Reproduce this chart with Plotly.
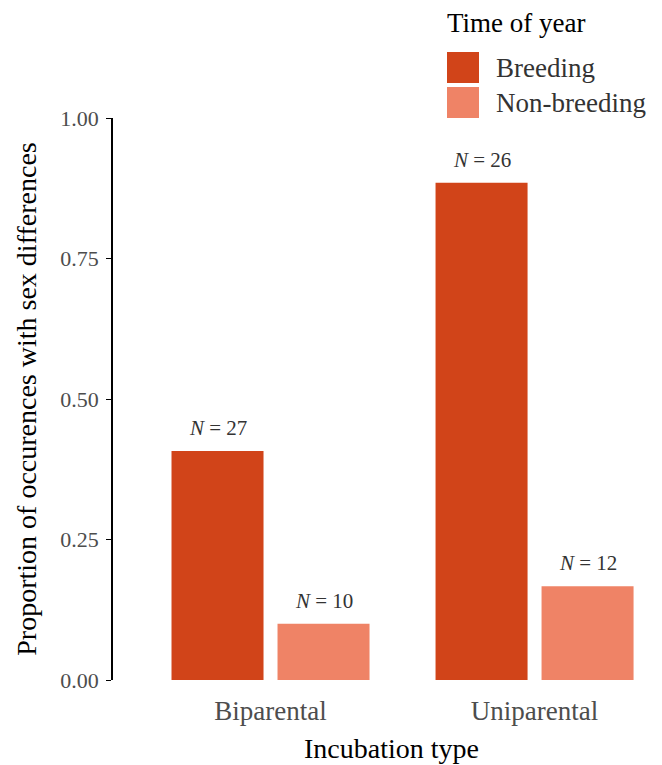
import plotly.graph_objects as go

categories = ["Biparental", "Uniparental"]
series_names = ["Breeding", "Non-breeding"]
breeding = [11 / 27, 23 / 26]
non_breeding = [1 / 10, 2 / 12]
n_breeding = [27, 26]
n_non_breeding = [10, 12]
colors = ["#D14419", "#EF8366"]
y_ticks = [0.0, 0.25, 0.5, 0.75, 1.0]
y_tick_labels = ["0.00", "0.25", "0.50", "0.75", "1.00"]

FONT = "Liberation Serif"
BARGAP = 0.197
BARGROUPGAP = 0.132

# page offset (browser default body margin)
OFF = 8
W, H = 662, 765
l, r, t, b = 113 - OFF, 0, 118 - OFF, 85 + OFF
pw, ph = W - l - r, H - t - b


def px_to_paper(x, y):
    return (x - OFF - l) / pw, (H - b - (y - OFF)) / ph


fig = go.Figure()
values = [breeding, non_breeding]
counts = [n_breeding, n_non_breeding]
for i, name in enumerate(series_names):
    fig.add_trace(go.Bar(
        x=categories, y=values[i], name=name,
        marker=dict(color=colors[i], line=dict(width=0)),
        showlegend=False,
    ))

slot = (1 - BARGAP) / 2
for i in range(len(series_names)):
    off = (i - 0.5) * slot
    for j, cat in enumerate(categories):
        fig.add_annotation(
            x=j + off, y=values[i][j], xref="x", yref="y",
            text=f"<i>N</i> = {counts[i][j]}", showarrow=False,
            yanchor="middle", yshift=23,
            font=dict(family=FONT, size=21, color="#333333"),
        )

# manual legend (large key swatches as in the reference)
tx, ty = px_to_paper(448, 23)
fig.add_annotation(x=tx, y=ty, xref="paper", yref="paper", text="Time of year",
                   showarrow=False, xanchor="left", yanchor="middle", xshift=-3,
                   font=dict(family=FONT, size=27, color="#000000"))
for i, name in enumerate(series_names):
    y0 = 52 + i * 35
    x0p, y0p = px_to_paper(447, y0)
    x1p, y1p = px_to_paper(479, y0 + 31)
    fig.add_shape(type="rect", xref="paper", yref="paper",
                  x0=x0p, x1=x1p, y0=y1p, y1=y0p,
                  fillcolor=colors[i], line=dict(width=0))
    lx, ly = px_to_paper(497, y0 + 16)
    fig.add_annotation(x=lx, y=ly, xref="paper", yref="paper", text=name,
                       showarrow=False, xanchor="left", yanchor="middle", xshift=-3,
                       font=dict(family=FONT, size=27, color="#333333"))

fig.update_layout(
    width=W, height=H,
    margin=dict(l=l, r=r, t=t, b=b),
    plot_bgcolor="white", paper_bgcolor="white",
    bargap=BARGAP, bargroupgap=BARGROUPGAP,
    barmode="group",
    font=dict(family=FONT, color="#000000"),
    xaxis=dict(
        range=[-0.5966, 1.513], showline=False, ticks="", showgrid=False,
        automargin=False, ticklabelstandoff=12,
        tickfont=dict(family=FONT, size=27, color="#4D4D4D"),
        title=dict(text="Incubation type", font=dict(family=FONT, size=28, color="#000000"), standoff=13),
        zeroline=False,
    ),
    yaxis=dict(
        range=[0, 1], tickvals=y_ticks, ticktext=y_tick_labels,
        automargin=False, ticklabelstandoff=3,
        showline=True, linecolor="#000000", linewidth=1.5,
        ticks="outside", ticklen=5, tickwidth=1.2, tickcolor="#000000",
        showgrid=False, zeroline=False,
        tickfont=dict(family=FONT, size=22, color="#4D4D4D"),
        title=dict(text="Proportion of occurences with sex differences",
                   font=dict(family=FONT, size=28, color="#000000"), standoff=16),
    ),
)

fig.write_html("out.html")
